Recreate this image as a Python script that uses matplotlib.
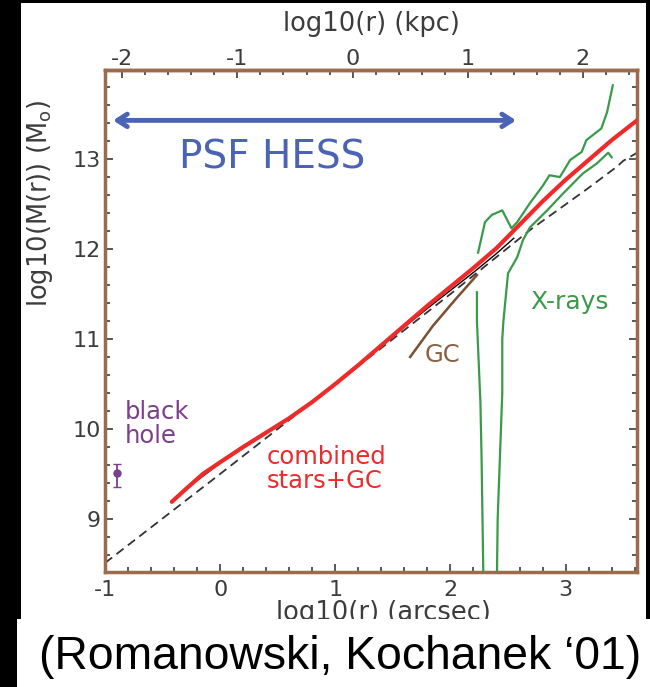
import matplotlib
matplotlib.use("Agg")
import matplotlib.pyplot as plt
from matplotlib.patches import Rectangle
from matplotlib.ticker import MultipleLocator

plt.rcParams["font.family"] = ["DejaVu Sans"]
plt.rcParams["axes.unicode_minus"] = False

# combined stars+GC model (red)
model_x = [-0.42, -0.3, -0.15, 0.0, 0.2, 0.4, 0.6, 0.8, 1.0, 1.2, 1.4, 1.6, 1.8, 2.0,
           2.2, 2.4, 2.6, 2.8, 3.0, 3.2, 3.4, 3.62]
model_y = [9.19, 9.33, 9.50, 9.63, 9.80, 9.96, 10.12, 10.30, 10.50, 10.71, 10.93, 11.15,
           11.37, 11.58, 11.79, 12.01, 12.27, 12.53, 12.77, 12.99, 13.21, 13.43]

# stellar data under the model (thin black)
stars_x = [-0.3, 0.0, 0.3, 0.6, 0.9, 1.2, 1.5, 1.8, 2.0, 2.2, 2.4, 2.55]
stars_y = [9.33, 9.62, 9.87, 10.11, 10.39, 10.70, 11.03, 11.34, 11.54, 11.74, 11.95, 12.12]

# dashed reference line
dash_x = [-1.0, 0.0, 1.0, 2.0, 2.7, 3.2, 3.45, 3.5, 3.62]
dash_y = [8.51, 9.50, 10.50, 11.50, 12.22, 12.68, 12.92, 12.98, 13.07]

# globular clusters
gc_x = [1.65, 1.85, 2.05, 2.23]
gc_y = [10.80, 11.15, 11.45, 11.71]

# X-ray mass profiles (green)
xray_up_x = [2.24, 2.30, 2.36, 2.45, 2.53, 2.58, 2.69, 2.80, 2.86, 2.95, 3.04, 3.14, 3.18,
             3.27, 3.31, 3.36, 3.41]
xray_up_y = [11.96, 12.30, 12.38, 12.43, 12.23, 12.30, 12.51, 12.70, 12.82, 12.80, 12.99,
             13.08, 13.21, 13.30, 13.34, 13.52, 13.82]
xray_lo1_x = [2.23, 2.23, 2.24, 2.26, 2.27, 2.29]
xray_lo1_y = [11.52, 11.20, 10.90, 10.30, 9.70, 8.00]
xray_lo2_x = [2.40, 2.41, 2.43, 2.45, 2.45, 2.46, 2.50, 2.58, 2.63, 2.69, 2.84, 2.98, 3.15,
              3.27, 3.37, 3.40]
xray_lo2_y = [8.00, 9.00, 9.70, 10.40, 11.00, 11.20, 11.73, 11.91, 12.10, 12.24, 12.43,
              12.62, 12.84, 12.95, 13.07, 13.02]

# black hole mass
bh_x = [-0.90]
bh_y = [9.51]
bh_err = [[0.15], [0.10]]

# HESS PSF range
psf_range = [-0.93, 2.57]
psf_level = 13.43

kpc_offset = 1.15
kpc_ticks = [-2, -1, 0, 1, 2]
kpc_minor = [-2.0 + 0.2 * i for i in range(23)]

brown = "#9b6b4b"
tickc = "#3c3c3c"
green = "#3a9a4a"

fig = plt.figure(figsize=(6.5, 6.87), dpi=100, facecolor="black")
fig.add_artist(Rectangle((21 / 650, 1 - 624 / 687), 625 / 650, 621 / 687,
                         transform=fig.transFigure, facecolor="white", edgecolor="none", zorder=-1))
fig.add_artist(Rectangle((17 / 650, 0), 1, 68 / 687,
                         transform=fig.transFigure, facecolor="white", edgecolor="none", zorder=5))
fig.text(0.523, 0.044, "(Romanowski, Kochanek \u201801)", family="Liberation Sans",
         fontsize=33.3, ha="center", va="center", color="black", zorder=6)

ax = fig.add_axes([105 / 650, 1 - 572 / 687, 532 / 650, 502 / 687])
ax.set_facecolor("white")

ax.plot(dash_x, dash_y, color="#333333", lw=1.3, ls=(0, (5, 3)), zorder=2)
ax.plot(stars_x, stars_y, color="black", lw=1.0, zorder=2)
ax.plot(gc_x, gc_y, color="#7a5030", lw=1.8, zorder=3)
ax.plot(xray_up_x, xray_up_y, color=green, lw=1.6, zorder=3)
ax.plot(xray_lo1_x, xray_lo1_y, color=green, lw=1.6, zorder=3)
ax.plot(xray_lo2_x, xray_lo2_y, color=green, lw=1.6, zorder=3)
ax.plot(model_x, model_y, color="#ee2a2a", lw=3, zorder=4, solid_capstyle="round")
ax.errorbar(bh_x, bh_y, yerr=bh_err, fmt="o", ms=5, color="#7b3f8c",
            capsize=3, elinewidth=1.3, zorder=4)

ax.annotate("", xy=(psf_range[0], psf_level), xytext=(psf_range[1], psf_level),
            arrowprops=dict(arrowstyle="<->,head_length=0.7,head_width=0.45",
                            color="#4a63b5", lw=3.5, shrinkA=0, shrinkB=0))

ax.text(-0.355, 13.02, "PSF HESS", fontsize=28, color="#4a63b5", va="center", ha="left")
ax.text(-0.83, 10.06, "black\nhole", fontsize=17.5, color="#7b3f8c", va="center", ha="left",
        linespacing=1.0)
ax.text(0.40, 9.55, "combined\nstars+GC", fontsize=17.5, color="#ee2a2a", va="center",
        ha="left", linespacing=1.0)
ax.text(1.78, 10.82, "GC", fontsize=17.5, color="#8b6040", va="center", ha="left")
ax.text(2.69, 11.41, "X-rays", fontsize=18, color=green, va="center", ha="left")

ax.set_xlim(-1.0, 3.62)
ax.set_ylim(8.41, 13.99)

ax.xaxis.set_major_locator(MultipleLocator(1))
ax.xaxis.set_minor_locator(MultipleLocator(0.2))
ax.yaxis.set_major_locator(MultipleLocator(1))
ax.yaxis.set_minor_locator(MultipleLocator(0.2))
ax.tick_params(which="both", direction="in", right=True, top=False,
               colors=tickc, labelsize=16, width=1.2)
ax.tick_params(which="major", length=6)
ax.tick_params(which="minor", length=3.5)
ax.tick_params(axis="x", pad=6)
ax.tick_params(axis="y", pad=3)

for s in ax.spines.values():
    s.set_color(brown)
    s.set_linewidth(2.5)

ax.set_xlabel("log10(r) (arcsec)", fontsize=18.5, color=tickc)
ax.xaxis.set_label_coords(0.523, -0.056)
ax.xaxis.label.set_va("top")
ax.set_ylabel("log10(M(r)) (M$_\\mathregular{o}$)", fontsize=18.5, color=tickc)
ax.yaxis.set_label_coords(-0.094, 0.735)

secax = ax.secondary_xaxis("top", functions=(lambda x: x - kpc_offset, lambda x: x + kpc_offset))
secax.set_xticks(kpc_ticks)
secax.set_xticks(kpc_minor, minor=True)
secax.tick_params(which="both", direction="in", colors=tickc, labelsize=16, width=1.2, pad=1)
secax.tick_params(which="major", length=6)
secax.tick_params(which="minor", length=3.5)
secax.spines["top"].set_color(brown)
secax.spines["top"].set_linewidth(2.5)
secax.set_xlabel("log10(r) (kpc)", fontsize=18.5, color=tickc, labelpad=13)

fig.savefig("out.png", dpi=100, facecolor="black")
